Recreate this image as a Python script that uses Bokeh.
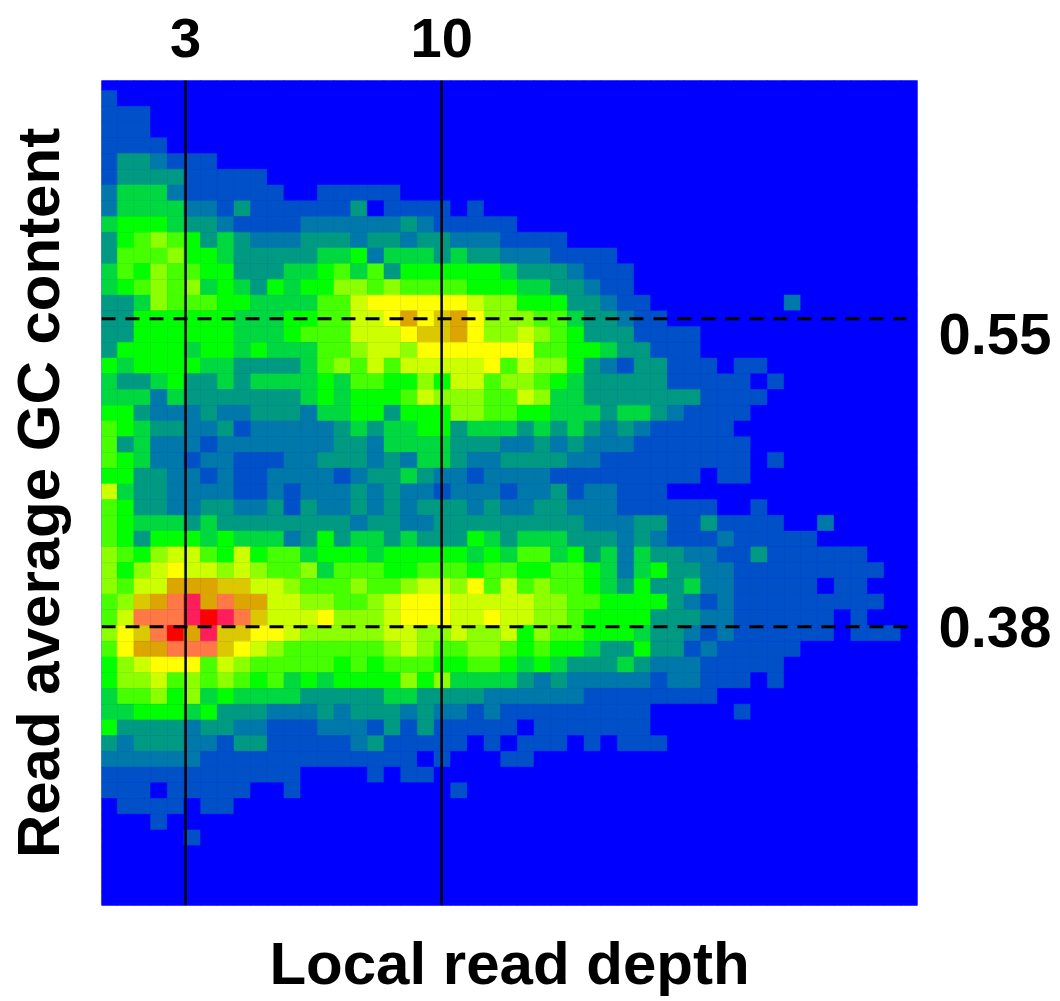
from bokeh.embed import file_html
from bokeh.resources import INLINE
from bokeh.plotting import figure
from bokeh.models import Range1d, LinearAxis, FixedTicker, LinearColorMapper, Span, ColumnDataSource
import numpy as np

# Binned density levels, one string per GC row (top to bottom); hex digit = level
depth_low = ["0000000000000000","1000000000000000","1110000000000000","1110000000000000","1111000000000000",
"1332111000000000","1333311111000000","2444211111100111","2444422131111113","4555433211112222",
"3567653432223332","3666755433333445","4657665533344564","4567674543545577","3347666554444668",
"3355555544455668","3355555544456668","3555545545444667","5455554433334676","4334533434444546",
"4442433333334545","5532223223332445","6543322312222234","6342221222222233","6542212211122333",
"5533221211222212","8433222211212223","6533223322313223","6544434333333332","6535554544423534",
"7657886585664555","7578988787667466","7688bbbaa8876667","67abcdbcbb887766","68cccdedca888977",
"79acebdaa9987777","69bbccca98766666","5789996876666656","5778676765645455","4667574544443333",
"4455545333222323","5333323322111222","3233322133111112","2222221111111111","1111111111110000",
"1110111110010000","0111101100000000","0001000000000000","0000010000000000","0000000000000000",
"0000000000000000","0000000000000000","0000000000000000"]
depth_mid = ["00000000000000000"]*7 + ["11000000000000000","01111010000000000","22321111100000000",
"33233222111100000","24443433222111100","63555555433321110","67666655544332110","99999987755533211",
"89b9ab97776643321","889aab97787653331","88799999996655433","86888889687753213","65575886776543333",
"55687776687443333","53555776655444344","34455344434343232","24444333223232221","23244322333322111",
"33432212222111111","23221222122312211","23233323223322211","33223333333332223","43433354344433323",
"45555545466453424","65566656655665424","66788796867665435","78999888887766555","78999889887765555",
"78877877857665554","67876677656554335","56665566545433343","55757444432322222","34433332222221111",
"33232212111111111","13131111101111111","31111101011101011","11101000110000000","10110000000000000",
"00000100000000000"] + ["00000000000000000"]*7
depth_high = ["0000000000000000"]*14 + ["0000000020000000","1000000000000000","1110000000000000","1110000000000000",
"3111011000000000","3111110100000000","3331111000000000","3211110000000000","1111100000000000","1111110000000000",
"1111110100000000","1110110000000000","1000000000000000","1111001000000000","3113111100200000","2111211111000000",
"3322113111111000","5332211111111100","3342211111011000","5321211111111100","3332211111101000","3321211111101110",
"3312111110000000","2221111100000000","1221110100000000","1111000000000000","0000010000000000","0000000000000000",
"1000000000000000"] + ["0000000000000000"]*10

palette = ["#0000ff","#0050c8","#0078aa","#009a82","#00d840","#00ff00","#46ff00","#8cff00","#ccff00",
           "#ffff00","#dcc800","#dca500","#ff7846","#ff1e5a","#ff0000"]

depth_ticks = [3, 10]
depth_labels = ["3", "10"]
gc_ticks = [0.55, 0.38]
gc_labels = ["0.55", "0.38"]
depth_title = "Local read depth"
gc_title = "Read average GC content"

DEPTH_START, DEPTH_BIN = 0.675, 0.4558
GC_START, GC_BIN = 0.6845, 0.00868
GC_LABEL_NUDGE = [0.0083, 0.0]  # the printed 0.55 sits slightly below its line

rows = [a + b + c for a, b, c in zip(depth_low, depth_mid, depth_high)]
xs, ys, vals = [], [], []
for r, row in enumerate(rows):
    for c, ch in enumerate(row):
        xs.append(DEPTH_START + (c + 0.5) * DEPTH_BIN)
        ys.append(GC_START - (r + 0.5) * GC_BIN)
        vals.append(int(ch, 16))
src = ColumnDataSource(dict(x=xs, y=ys, v=vals))
mapper = LinearColorMapper(palette=palette, low=0, high=len(palette))

FONT = "Liberation Sans"
p = figure(width=1060, height=1000, output_backend="svg", toolbar_location=None,
           x_range=Range1d(0.70, 23.01), y_range=Range1d(0.2262, 0.6814),
           x_axis_location=None, y_axis_location=None,
           frame_width=816, frame_height=825,
           min_border_left=101, min_border_right=143, min_border_top=80, min_border_bottom=95,
           outline_line_color=None, background_fill_color="#0000ff")
p.grid.visible = False
p.rect("x", "y", width=DEPTH_BIN, height=GC_BIN, source=src,
       fill_color={"field": "v", "transform": mapper}, line_color={"field": "v", "transform": mapper}, line_width=0.5)

for d in depth_ticks:
    p.add_layout(Span(location=d, dimension="height", line_color="black", line_width=2.5))
src_h = ColumnDataSource(dict(x0=[0.70, 0.70], x1=[22.7, 22.95], y=gc_ticks))
p.segment("x0", "y", "x1", "y", source=src_h, line_color="black", line_width=3, line_dash="14 10")

def style(ax):
    ax.axis_line_color = None
    ax.major_tick_line_color = None
    ax.minor_tick_line_color = None

top = LinearAxis(ticker=FixedTicker(ticks=depth_ticks),
                 major_label_overrides={t: l for t, l in zip(depth_ticks, depth_labels)},
                 major_label_text_font=FONT, major_label_text_font_size="56px",
                 major_label_text_color="black", major_label_text_font_style="bold", major_label_standoff=18)
style(top)
p.add_layout(top, "above")

below = LinearAxis(ticker=FixedTicker(ticks=[]), axis_label=depth_title, axis_label_text_font=FONT,
                   axis_label_text_font_size="60px", axis_label_text_font_style="bold",
                   axis_label_text_color="black", axis_label_standoff=24)
style(below)
p.add_layout(below, "below")

left = LinearAxis(ticker=FixedTicker(ticks=[]), axis_label=gc_title, axis_label_text_font=FONT,
                  axis_label_text_font_size="60px", axis_label_text_font_style="bold",
                  axis_label_text_color="black", axis_label_standoff=30)
style(left)
p.add_layout(left, "left")

label_at = [g - n for g, n in zip(gc_ticks, GC_LABEL_NUDGE)]
right = LinearAxis(ticker=FixedTicker(ticks=label_at),
                   major_label_overrides={t: l for t, l in zip(label_at, gc_labels)},
                   major_label_text_font=FONT, major_label_text_font_size="58px",
                   major_label_text_color="black", major_label_text_font_style="bold", major_label_standoff=15)
style(right)
p.add_layout(right, "right")

open("out.html", "w").write(file_html(p, INLINE))
